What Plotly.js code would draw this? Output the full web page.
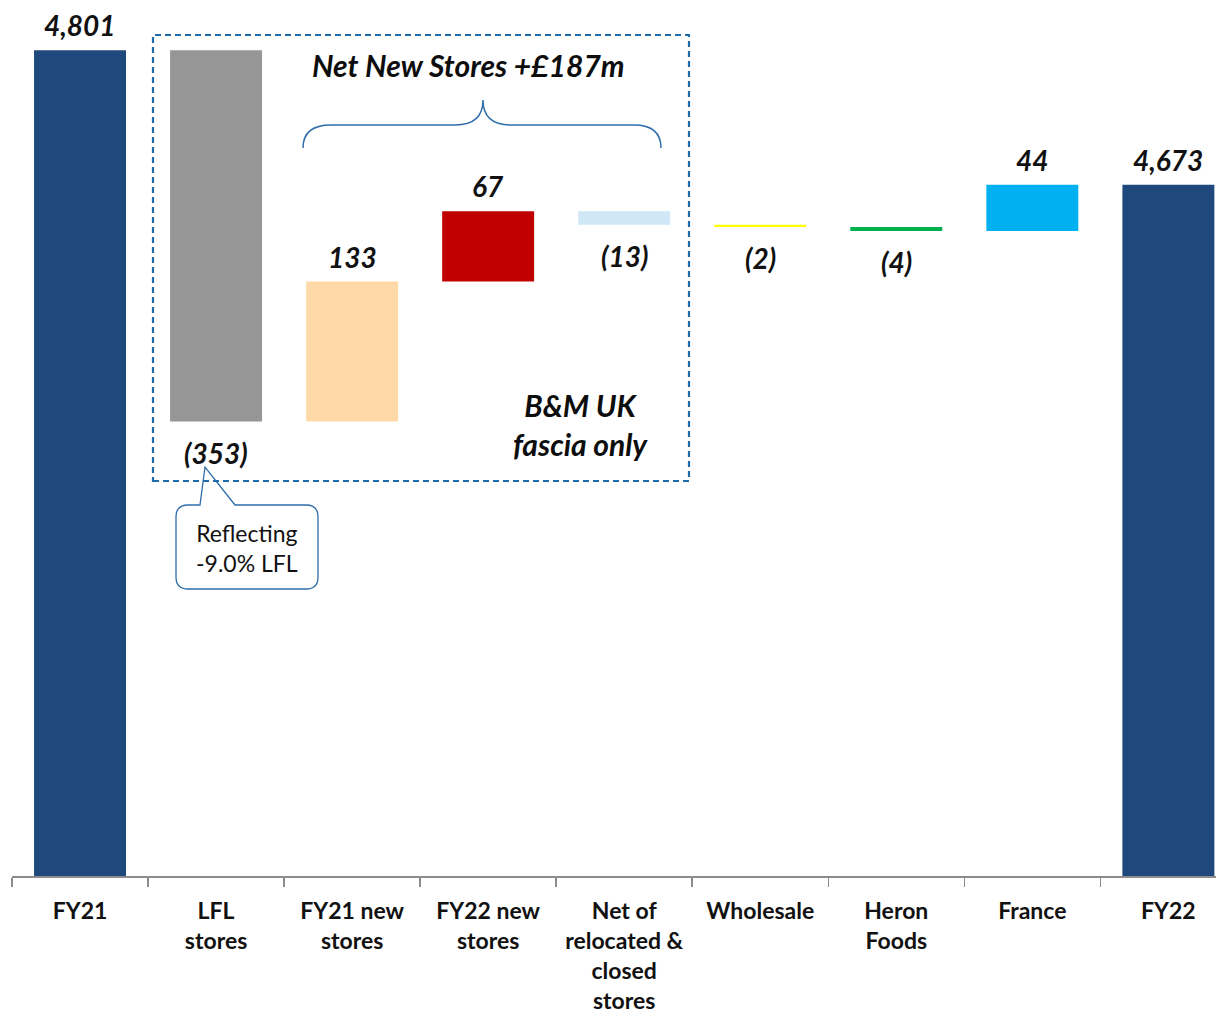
<!DOCTYPE html>
<html>
<head>
<meta charset="utf-8">
<script src="https://cdn.plot.ly/plotly-3.0.1.min.js"></script>
<style>html,body{margin:0;padding:0;background:#fff;overflow:hidden}#chart{width:1220px;height:1017px}</style>
</head>
<body>
<div id="chart"></div>
<script>
// ---- data ----
const categories = ["FY21", "LFL stores", "FY21 new stores", "FY22 new stores", "Net of relocated & closed stores", "Wholesale", "Heron Foods", "France", "FY22"];
const tickLabels = ["FY21", "LFL<br>stores", "FY21 new<br>stores", "FY22 new<br>stores", "Net of<br>relocated &<br>closed<br>stores", "Wholesale", "Heron<br>Foods", "France", "FY22"];
const values = [4801, -353, 133, 67, -13, -2, -4, 44, 4673];
const measures = ["total", "relative", "relative", "relative", "relative", "relative", "relative", "relative", "total"];
const barColors = ["#1F497D", "#969696", "#FFD9A8", "#C00000", "#D0E7F8", "#FFFF00", "#00B050", "#00B0F0", "#1F497D"];
const boxTitle = "Net New Stores +£187m";
const boxNote = "B&M UK<br>fascia only";
const calloutText = "Reflecting<br>-9.0% LFL";

// ---- computed bases ----
const bases = [], heights = [], tops = [], bottoms = [];
let running = 0;
values.forEach((v, i) => {
  if (measures[i] === "total") { bases.push(0); heights.push(v); running = v; tops.push(v); bottoms.push(0); }
  else { bases.push(running); heights.push(v); tops.push(Math.max(running, running + v)); bottoms.push(Math.min(running, running + v)); running += v; }
});
function fmt(v) {
  const s = Math.abs(v).toLocaleString("en-GB");
  return v < 0 ? "(" + s + ")" : s;
}

// ---- geometry helpers (pixel -> paper) ----
const L = 12, T = 10, W = 1204, H = 866;
const yMin = 4016, yMax = yMin + H / 1.052;
const px = x => (x - L) / W;
const py = y => (T + H - y) / H;

const FONT = "Lato, 'Open Sans', sans-serif";
const annotations = [];
values.forEach((v, i) => {
  const neg = v < 0;
  annotations.push({
    x: categories[i], xref: "x", yref: "y",
    y: neg ? bottoms[i] : tops[i],
    text: "<b><i>" + fmt(v) + "</i></b>",
    showarrow: false, yanchor: "middle",
    yshift: neg ? -31 : 25,
    font: {family: FONT, size: 28, color: "#111"}
  });
});
annotations.push({x: px(468), y: py(65), xref: "paper", yref: "paper", text: "<b><i>" + boxTitle + "</i></b>", showarrow: false, xanchor: "center", yanchor: "middle", font: {family: FONT, size: 30, color: "#0d0d0d"}});
annotations.push({x: px(580), y: py(425), xref: "paper", yref: "paper", text: "<b><i>" + boxNote + "</i></b>", showarrow: false, xanchor: "center", yanchor: "middle", align: "center", font: {family: FONT, size: 30, color: "#0d0d0d"}});
annotations.push({x: px(247), y: py(548), xref: "paper", yref: "paper", text: calloutText, showarrow: false, xanchor: "center", yanchor: "middle", align: "center", font: {family: FONT, size: 23, color: "#111"}});

const bracePath = `M ${px(303)} ${py(148)} Q ${px(303)} ${py(125)} ${px(331)} ${py(125)} L ${px(455)} ${py(125)} Q ${px(483)} ${py(125)} ${px(483)} ${py(100)} Q ${px(483)} ${py(125)} ${px(511)} ${py(125)} L ${px(634)} ${py(125)} Q ${px(661)} ${py(125)} ${px(661)} ${py(148)}`;
const calloutPath = `M ${px(200)} ${py(505)} L ${px(205)} ${py(467)} L ${px(235)} ${py(505)} L ${px(306)} ${py(505)} Q ${px(318)} ${py(505)} ${px(318)} ${py(517)} L ${px(318)} ${py(577)} Q ${px(318)} ${py(589)} ${px(306)} ${py(589)} L ${px(188)} ${py(589)} Q ${px(176)} ${py(589)} ${px(176)} ${py(577)} L ${px(176)} ${py(517)} Q ${px(176)} ${py(505)} ${px(188)} ${py(505)} Z`;

const shapes = [
  {type: "path", xref: "paper", yref: "paper", path: calloutPath, line: {color: "#2E6DAA", width: 1.3}, fillcolor: "rgba(255,255,255,0)"},
  {type: "rect", xref: "paper", yref: "paper", x0: px(153), x1: px(689), y0: py(481), y1: py(35), line: {color: "#1F6BAA", width: 2.2, dash: "6px,4px"}},
  {type: "path", xref: "paper", yref: "paper", path: bracePath, line: {color: "#2E6DAA", width: 1.5}}
];

const trace = {
  type: "bar", x: categories, y: heights, base: bases,
  marker: {color: barColors, line: {width: 0}},
  hoverinfo: "skip", showlegend: false
};

const layout = {
  width: 1220, height: 1017,
  margin: {l: L, r: 1220 - L - W, t: T, b: 1017 - T - H},
  paper_bgcolor: "#fff", plot_bgcolor: "#fff",
  bargap: 0.324,
  xaxis: {
    type: "category", tickvals: categories, ticktext: tickLabels,
    range: [-0.5, 8.35], tickson: "boundaries",
    ticks: "outside", ticklen: 9, tickcolor: "#8c8c8c", tickwidth: 1.5,
    showline: true, linecolor: "#8c8c8c", linewidth: 1.5,
    showgrid: false, zeroline: false, ticklabelstandoff: 14,
    tickfont: {family: FONT, size: 23, color: "#111", weight: "bold"},
    tickangle: 0, automargin: false
  },
  yaxis: {range: [yMin, yMax], visible: false, showgrid: false, zeroline: false, fixedrange: true},
  shapes: shapes, annotations: annotations,
  font: {family: FONT}
};
Plotly.newPlot("chart", [trace], layout, {displayModeBar: false, staticPlot: true});
</script>
</body>
</html>
